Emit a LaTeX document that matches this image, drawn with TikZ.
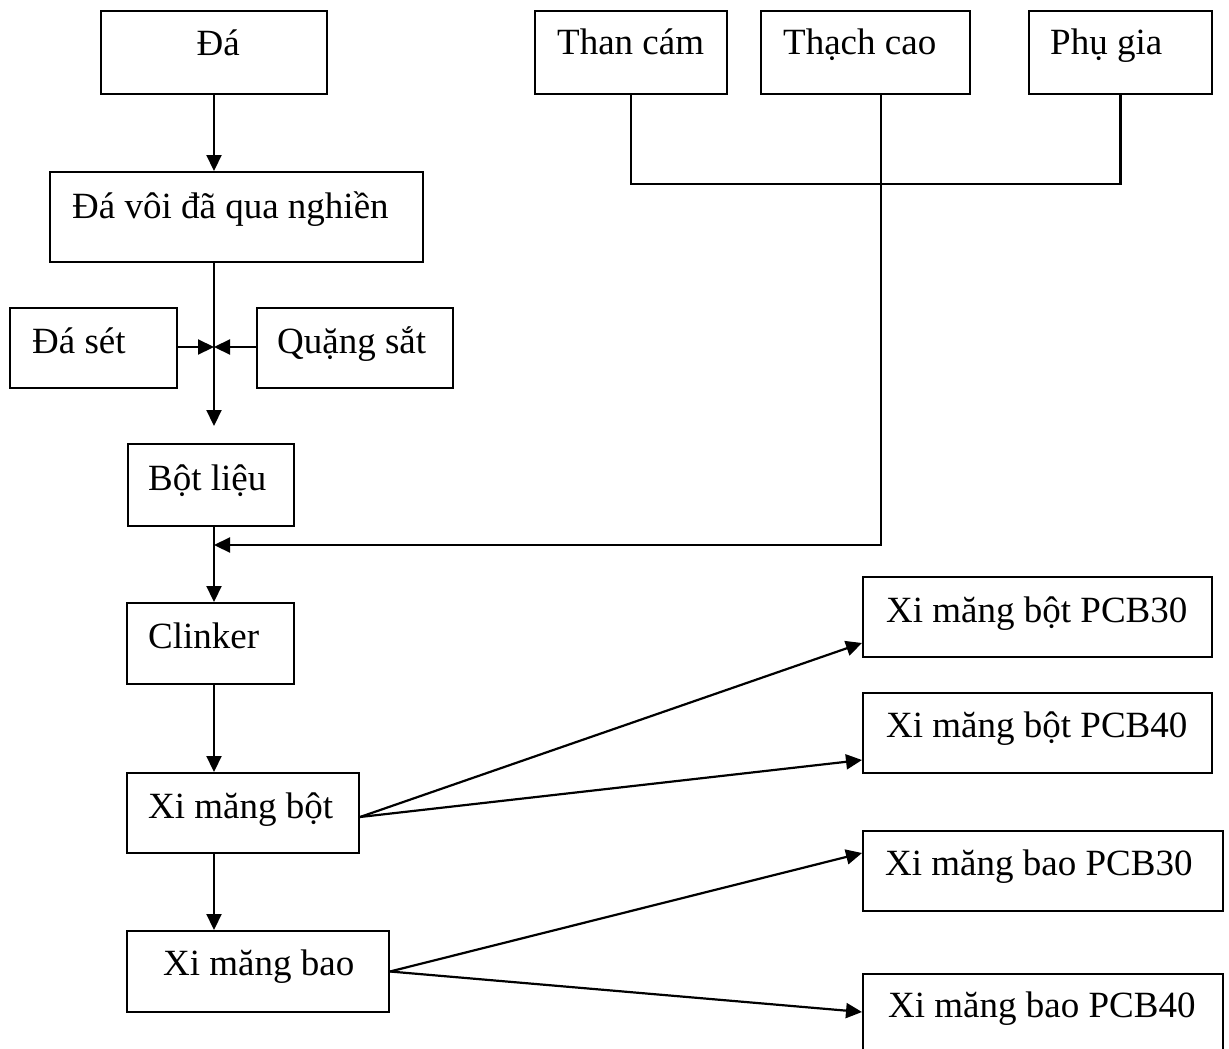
\documentclass[tikz,border=0pt]{standalone}
\usepackage{fontspec}
\setmainfont{Liberation Serif}
\usetikzlibrary{arrows.meta,calc}
\tikzset{
  box/.style={draw, line width=2pt, inner sep=0pt, rectangle},
  txt/.style={inner sep=0pt, anchor=base west, font=\fontsize{37pt}{44pt}\selectfont},
  conn/.style={line width=2.2pt},
  arr/.style={line width=2.2pt, -{Triangle[length=16pt,width=15pt]}}
}
\begin{document}
\begin{tikzpicture}[x=1pt,y=-1pt]
\clip (0,0) rectangle (1229,1049);
\fill[white] (0,0) rectangle (1229,1049);
% boxes
\node[box, minimum width=226pt, minimum height=83pt] (da) at (214,52.5) {};
\node[txt] (da-t) at (196.5,56) {Đá};
\node[box, minimum width=373pt, minimum height=90pt] (davoi) at (236.5,217) {};
\node[txt] (davoi-t) at (72,218) {Đá vôi đã qua nghiền};
\node[box, minimum width=167pt, minimum height=80pt] (daset) at (93.5,348) {};
\node[txt] (daset-t) at (32,353) {Đá sét};
\node[box, minimum width=196pt, minimum height=80pt] (quang) at (355,348) {};
\node[txt] (quang-t) at (277,353) {Quặng sắt};
\node[box, minimum width=166pt, minimum height=82pt] (botlieu) at (211,485) {};
\node[txt] (botlieu-t) at (148,490) {Bột liệu};
\node[box, minimum width=167pt, minimum height=81pt] (clinker) at (210.5,643.5) {};
\node[txt] (clinker-t) at (148,648) {Clinker};
\node[box, minimum width=232pt, minimum height=80pt] (xmbot) at (243,813) {};
\node[txt] (xmbot-t) at (148,818) {Xi măng bột};
\node[box, minimum width=262pt, minimum height=81pt] (xmbao) at (258,971.5) {};
\node[txt] (xmbao-t) at (163,975) {Xi măng bao};
\node[box, minimum width=192pt, minimum height=83pt] (than) at (631,52.5) {};
\node[txt] (than-t) at (557,55) {Than cám};
\node[box, minimum width=209pt, minimum height=83pt] (thach) at (865.5,52.5) {};
\node[txt] (thach-t) at (783,55) {Thạch cao};
\node[box, minimum width=183pt, minimum height=83pt] (phugia) at (1120.5,52.5) {};
\node[txt] (phugia-t) at (1050,55) {Phụ gia};
\node[box, minimum width=349pt, minimum height=80pt] (p30) at (1037.5,617) {};
\node[txt] (p30-t) at (886,622) {Xi măng bột PCB30};
\node[box, minimum width=349pt, minimum height=80pt] (p40) at (1037.5,733) {};
\node[txt] (p40-t) at (886,737) {Xi măng bột PCB40};
\node[box, minimum width=360pt, minimum height=80pt] (b30) at (1043,871) {};
\node[txt] (b30-t) at (885,875) {Xi măng bao PCB30};
\node[box, minimum width=360pt, minimum height=90pt] (b40) at (1043,1019) {};
\node[txt] (b40-t) at (888,1017) {Xi măng bao PCB40};
% junction points
\coordinate (mix) at (214,347);
\coordinate (mixend) at (214,426);
\coordinate (feed) at (214,545);
% connectors
\draw[arr] (da.south) -- (da.south |- davoi.north);
\draw[conn] (da.south |- davoi.south) -- (mix);
\draw[arr] (mix) -- (mixend);
\draw[arr] (daset.east |- mix) -- (mix);
\draw[arr] (quang.west |- mix) -- (mix);
\draw[conn] (botlieu.south -| mix) -- (feed);
\draw[arr] (feed) -- (clinker.north -| mix);
\draw[conn] (than.south) -- ++(0,89) -| (phugia.south);
\draw[arr] ([xshift=15.5pt]thach.south) |- (feed);
\draw[arr] (clinker.south -| mix) -- (xmbot.north -| mix);
\draw[arr] (xmbot.south -| mix) -- (xmbao.north -| mix);
\draw[arr] ([yshift=-4pt]xmbot.east) -- ([yshift=-26pt]p30.west);
\draw[arr] ([yshift=-4pt]xmbot.east) -- ([yshift=-27pt]p40.west);
\draw[arr] (xmbao.east) -- ([yshift=18pt]b30.west);
\draw[arr] (xmbao.east) -- ([yshift=7pt]b40.west);
\end{tikzpicture}
\end{document}
